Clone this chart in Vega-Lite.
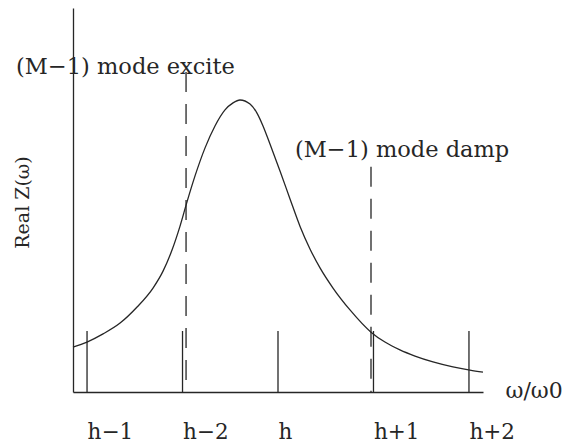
{
  "$schema": "https://vega.github.io/schema/vega-lite/v6.json",
  "width": 410,
  "height": 384,
  "autosize": {"type": "none"},
  "padding": {"left": 73, "top": 8, "right": 83, "bottom": 55},
  "background": "white",
  "config": {
    "view": {"stroke": null},
    "font": "DejaVu Serif"
  },
  "datasets": {
    "curve": [
      {"w": -0.147, "z": 0.154},
      {"w": 0.0, "z": 0.171},
      {"w": 0.168, "z": 0.199},
      {"w": 0.346, "z": 0.236},
      {"w": 0.524, "z": 0.291},
      {"w": 0.691, "z": 0.356},
      {"w": 0.796, "z": 0.414},
      {"w": 0.89, "z": 0.486},
      {"w": 0.974, "z": 0.568},
      {"w": 1.047, "z": 0.651},
      {"w": 1.131, "z": 0.74},
      {"w": 1.236, "z": 0.836},
      {"w": 1.34, "z": 0.911},
      {"w": 1.445, "z": 0.966},
      {"w": 1.529, "z": 0.99},
      {"w": 1.602, "z": 1.0},
      {"w": 1.707, "z": 0.986},
      {"w": 1.78, "z": 0.955},
      {"w": 1.843, "z": 0.911},
      {"w": 1.916, "z": 0.849},
      {"w": 2.021, "z": 0.757},
      {"w": 2.126, "z": 0.661},
      {"w": 2.23, "z": 0.568},
      {"w": 2.335, "z": 0.49},
      {"w": 2.44, "z": 0.425},
      {"w": 2.576, "z": 0.356},
      {"w": 2.754, "z": 0.281},
      {"w": 2.974, "z": 0.205},
      {"w": 3.12, "z": 0.171},
      {"w": 3.277, "z": 0.144},
      {"w": 3.435, "z": 0.123},
      {"w": 3.623, "z": 0.103},
      {"w": 3.832, "z": 0.086},
      {"w": 4.01, "z": 0.075},
      {"w": 4.147, "z": 0.068}
    ],
    "harmonics": [
      {"w": 0, "name": "h−1", "top": 0.209},
      {"w": 1, "name": "h−2", "top": 0.209},
      {"w": 2, "name": "h", "top": 0.209},
      {"w": 3, "name": "h+1", "top": 0.209},
      {"w": 4, "name": "h+2", "top": 0.209}
    ],
    "modes": [
      {"w": 1.037, "top": 1.096, "label": "(M−1) mode excite", "lx": -0.743, "ly": 1.113},
      {"w": 2.974, "top": 0.771, "label": "(M−1) mode damp", "lx": 2.178, "ly": 0.829}
    ]
  },
  "layer": [
    {
      "data": {"name": "curve"},
      "mark": {"type": "line", "interpolate": "monotone", "stroke": "#262626", "strokeWidth": 1.3},
      "encoding": {
        "x": {
          "field": "w",
          "type": "quantitative",
          "scale": {"domain": [-0.147, 4.147], "nice": false, "zero": false},
          "axis": {
            "values": [0, 1, 2, 3, 4],
            "labelExpr": "['h−1','h−2','h','h+1','h+2'][datum.value]",
            "ticks": false,
            "tickSize": 0,
            "grid": false,
            "domainColor": "#262626",
            "domainWidth": 1.3,
            "labelFont": "DejaVu Serif",
            "labelFontSize": 21.5,
            "labelColor": "#262626",
            "labelAlign": "left",
            "labelDx": -7,
            "labelBaseline": "middle",
            "labelPadding": 40,
            "labelFlush": false,
            "labelOverlap": false,
            "title": "ω/ω0",
            "titleFont": "DejaVu Serif",
            "titleFontSize": 22,
            "titleFontWeight": "normal",
            "titleColor": "#262626",
            "titleAlign": "left",
            "titleBaseline": "middle",
            "titleX": 432,
            "titleY": -2
          }
        },
        "y": {
          "field": "z",
          "type": "quantitative",
          "scale": {"domain": [0, 1.315], "nice": false},
          "axis": {
            "labels": false,
            "ticks": false,
            "grid": false,
            "domainColor": "#262626",
            "domainWidth": 1.3,
            "title": "Real Z(ω)",
            "titleFont": "DejaVu Serif",
            "titleFontSize": 19,
            "titleFontWeight": "normal",
            "titleColor": "#262626",
            "titleAngle": -90,
            "titleAlign": "center",
            "titleBaseline": "middle",
            "titleX": -51,
            "titleY": 194
          }
        }
      }
    },
    {
      "data": {"name": "harmonics"},
      "mark": {"type": "rule", "stroke": "#262626", "strokeWidth": 1.3},
      "encoding": {
        "x": {"field": "w", "type": "quantitative"},
        "y": {"field": "top", "type": "quantitative"},
        "y2": {"datum": 0}
      }
    },
    {
      "data": {"name": "modes"},
      "mark": {"type": "rule", "stroke": "#262626", "strokeWidth": 1.3, "strokeDash": [20, 12]},
      "encoding": {
        "x": {"field": "w", "type": "quantitative"},
        "y": {"field": "top", "type": "quantitative"},
        "y2": {"datum": 0}
      }
    },
    {
      "data": {"name": "modes"},
      "mark": {"type": "text", "align": "left", "baseline": "middle", "fontSize": 22.5, "font": "DejaVu Serif", "fill": "#262626"},
      "encoding": {
        "x": {"field": "lx", "type": "quantitative"},
        "y": {"field": "ly", "type": "quantitative"},
        "text": {"field": "label"}
      }
    }
  ]
}
